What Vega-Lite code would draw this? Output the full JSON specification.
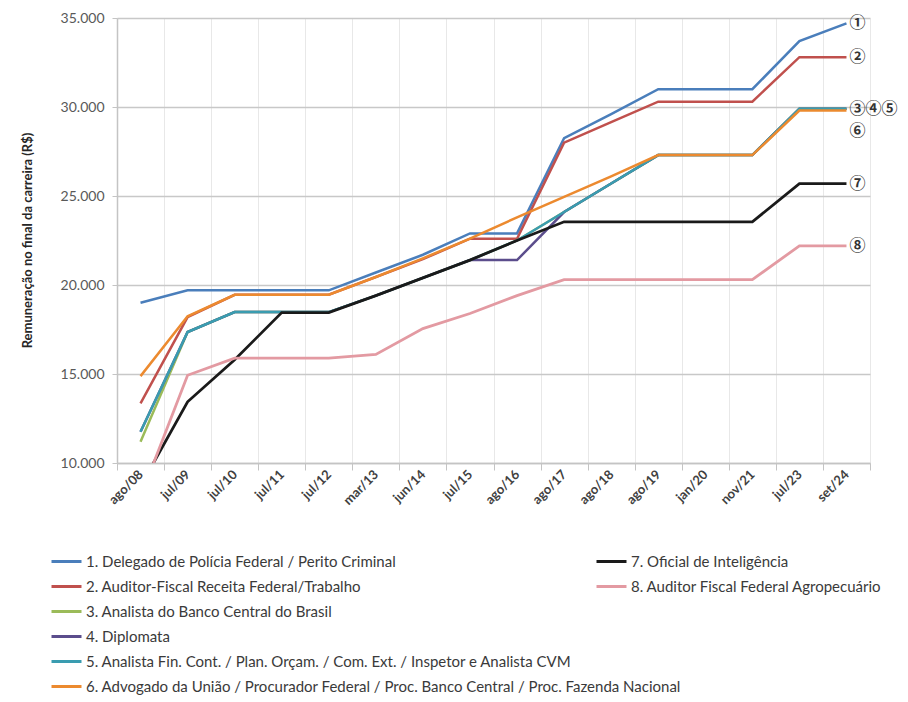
{
"$schema": "https://vega.github.io/schema/vega-lite/v6.json",
"width": 753, "height": 445,
"autosize": {"type": "none"},
"padding": {"left": 117, "top": 18, "right": 38, "bottom": 239},
"background": "white",
"config": {"font": "Lato", "view": {"stroke": null}},
"datasets": {
"names": [
{"k":1,"name":"1. Delegado de Polícia Federal / Perito Criminal"},
{"k":2,"name":"2. Auditor-Fiscal Receita Federal/Trabalho"},
{"k":3,"name":"3. Analista do Banco Central do Brasil"},
{"k":4,"name":"4. Diplomata"},
{"k":5,"name":"5. Analista Fin. Cont. / Plan. Orçam. / Com. Ext. / Inspetor e Analista CVM"},
{"k":6,"name":"6. Advogado da União / Procurador Federal / Proc. Banco Central / Proc. Fazenda Nacional"},
{"k":7,"name":"7. Oficial de Inteligência"},
{"k":8,"name":"8. Auditor Fiscal Federal Agropecuário"}
],
"pts": [
{"c":"ago/08","k":1,"v":19000},{"c":"jul/09","k":1,"v":19700},{"c":"jul/10","k":1,"v":19700},{"c":"jul/11","k":1,"v":19700},{"c":"jul/12","k":1,"v":19700},{"c":"mar/13","k":1,"v":20700},{"c":"jun/14","k":1,"v":21700},{"c":"jul/15","k":1,"v":22900},{"c":"ago/16","k":1,"v":22900},{"c":"ago/17","k":1,"v":28250},{"c":"ago/18","k":1,"v":29600},{"c":"ago/19","k":1,"v":31000},{"c":"jan/20","k":1,"v":31000},{"c":"nov/21","k":1,"v":31000},{"c":"jul/23","k":1,"v":33700},{"c":"set/24","k":1,"v":34700},
{"c":"ago/08","k":2,"v":13350},{"c":"jul/09","k":2,"v":18200},{"c":"jul/10","k":2,"v":19450},{"c":"jul/11","k":2,"v":19450},{"c":"jul/12","k":2,"v":19450},{"c":"mar/13","k":2,"v":20450},{"c":"jun/14","k":2,"v":21450},{"c":"jul/15","k":2,"v":22600},{"c":"ago/16","k":2,"v":22600},{"c":"ago/17","k":2,"v":28000},{"c":"ago/18","k":2,"v":29150},{"c":"ago/19","k":2,"v":30300},{"c":"jan/20","k":2,"v":30300},{"c":"nov/21","k":2,"v":30300},{"c":"jul/23","k":2,"v":32800},{"c":"set/24","k":2,"v":32800},
{"c":"ago/08","k":3,"v":11200},{"c":"jul/09","k":3,"v":17360},{"c":"jul/10","k":3,"v":18480},{"c":"jul/11","k":3,"v":18480},{"c":"jul/12","k":3,"v":18480},{"c":"mar/13","k":3,"v":19400},{"c":"jun/14","k":3,"v":20400},{"c":"jul/15","k":3,"v":21400},{"c":"ago/16","k":3,"v":22500},{"c":"ago/17","k":3,"v":24100},{"c":"ago/18","k":3,"v":25700},{"c":"ago/19","k":3,"v":27300},{"c":"jan/20","k":3,"v":27300},{"c":"nov/21","k":3,"v":27300},{"c":"jul/23","k":3,"v":29900},{"c":"set/24","k":3,"v":29900},
{"c":"ago/08","k":4,"v":11760},{"c":"jul/09","k":4,"v":17360},{"c":"jul/10","k":4,"v":18480},{"c":"jul/11","k":4,"v":18480},{"c":"jul/12","k":4,"v":18480},{"c":"mar/13","k":4,"v":19400},{"c":"jun/14","k":4,"v":20400},{"c":"jul/15","k":4,"v":21400},{"c":"ago/16","k":4,"v":21400},{"c":"ago/17","k":4,"v":24100},{"c":"ago/18","k":4,"v":25700},{"c":"ago/19","k":4,"v":27300},{"c":"jan/20","k":4,"v":27300},{"c":"nov/21","k":4,"v":27300},{"c":"jul/23","k":4,"v":29900},{"c":"set/24","k":4,"v":29900},
{"c":"ago/08","k":5,"v":11760},{"c":"jul/09","k":5,"v":17360},{"c":"jul/10","k":5,"v":18480},{"c":"jul/11","k":5,"v":18480},{"c":"jul/12","k":5,"v":18480},{"c":"mar/13","k":5,"v":19400},{"c":"jun/14","k":5,"v":20400},{"c":"jul/15","k":5,"v":21400},{"c":"ago/16","k":5,"v":22500},{"c":"ago/17","k":5,"v":24100},{"c":"ago/18","k":5,"v":25700},{"c":"ago/19","k":5,"v":27300},{"c":"jan/20","k":5,"v":27300},{"c":"nov/21","k":5,"v":27300},{"c":"jul/23","k":5,"v":29900},{"c":"set/24","k":5,"v":29900},
{"c":"ago/08","k":6,"v":14880},{"c":"jul/09","k":6,"v":18240},{"c":"jul/10","k":6,"v":19450},{"c":"jul/11","k":6,"v":19450},{"c":"jul/12","k":6,"v":19450},{"c":"mar/13","k":6,"v":20450},{"c":"jun/14","k":6,"v":21500},{"c":"jul/15","k":6,"v":22600},{"c":"ago/16","k":6,"v":23800},{"c":"ago/17","k":6,"v":24950},{"c":"ago/18","k":6,"v":26100},{"c":"ago/19","k":6,"v":27300},{"c":"jan/20","k":6,"v":27300},{"c":"nov/21","k":6,"v":27300},{"c":"jul/23","k":6,"v":29800},{"c":"set/24","k":6,"v":29800},
{"c":"ago/08","k":7,"v":8700},{"c":"jul/09","k":7,"v":13440},{"c":"jul/10","k":7,"v":15800},{"c":"jul/11","k":7,"v":18450},{"c":"jul/12","k":7,"v":18450},{"c":"mar/13","k":7,"v":19400},{"c":"jun/14","k":7,"v":20400},{"c":"jul/15","k":7,"v":21400},{"c":"ago/16","k":7,"v":22500},{"c":"ago/17","k":7,"v":23550},{"c":"ago/18","k":7,"v":23550},{"c":"ago/19","k":7,"v":23550},{"c":"jan/20","k":7,"v":23550},{"c":"nov/21","k":7,"v":23550},{"c":"jul/23","k":7,"v":25700},{"c":"set/24","k":7,"v":25700},
{"c":"ago/08","k":8,"v":8100},{"c":"jul/09","k":8,"v":14930},{"c":"jul/10","k":8,"v":15890},{"c":"jul/11","k":8,"v":15890},{"c":"jul/12","k":8,"v":15890},{"c":"mar/13","k":8,"v":16100},{"c":"jun/14","k":8,"v":17550},{"c":"jul/15","k":8,"v":18400},{"c":"ago/16","k":8,"v":19400},{"c":"ago/17","k":8,"v":20300},{"c":"ago/18","k":8,"v":20300},{"c":"ago/19","k":8,"v":20300},{"c":"jan/20","k":8,"v":20300},{"c":"nov/21","k":8,"v":20300},{"c":"jul/23","k":8,"v":22200},{"c":"set/24","k":8,"v":22200}
],
"ends": [
{"c":"set/24","v":34700,"t":"①"},
{"c":"set/24","v":32800,"t":"②"},
{"c":"set/24","v":29900,"t":"③④⑤"},
{"c":"set/24","v":25700,"t":"⑦"},
{"c":"set/24","v":22200,"t":"⑧"}
],
"ends6": [
{"c":"set/24","v":29800,"t":"⑥"}
]
},
"encoding": {
"x": {"field": "c", "type": "ordinal",
 "sort": ["ago/08","jul/09","jul/10","jul/11","jul/12","mar/13","jun/14","jul/15","ago/16","ago/17","ago/18","ago/19","jan/20","nov/21","jul/23","set/24"],
 "scale": {"type": "band", "paddingInner": 0, "paddingOuter": 0},
 "bandPosition": 0.5,
 "axis": {"title": null, "tickBand": "extent", "grid": true, "gridColor": "#e8e8e8", "gridWidth": 1,
  "domainColor": "#c4c4c4", "domainWidth": 1.5, "tickColor": "#c4c4c4", "tickSize": 7, "tickWidth": 1,
  "labelAngle": -45, "labelAlign": "right", "labelBaseline": "middle", "labelPadding": 2,
  "labelFontSize": 13, "labelFontWeight": "bold", "labelColor": "#404040", "labelFont": "Lato"}},
"y": {"field": "v", "type": "quantitative",
 "scale": {"domain": [10000, 35000], "nice": false, "zero": false},
 "axis": {"values": [10000, 15000, 20000, 25000, 30000, 35000],
  "labelExpr": "replace(format(datum.value, ',.0f'), ',', '.')",
  "labelFontSize": 14, "labelColor": "#595959", "labelFont": "Lato", "labelPadding": 8,
  "tickSize": 5, "tickColor": "#c4c4c4", "domainColor": "#c4c4c4", "domainWidth": 1.5,
  "grid": true, "gridColor": "#c8c8c8", "gridWidth": 1.5,
  "title": "Remuneração no final da carreira (R$)", "titleFont": "Lato", "titleFontSize": 13, "titleFontWeight": "bold",
  "titleColor": "#262626", "titleX": -90, "titleY": 222, "titleAngle": -90, "titleAlign": "center", "titleBaseline": "middle"}}
},
"layer": [
{
 "data": {"name": "pts"},
 "transform": [{"filter": "datum.k <= 6"}, {"lookup": "k", "from": {"data": {"name": "names"}, "key": "k", "fields": ["name"]}}],
 "mark": {"type": "line", "strokeWidth": 2.5, "clip": true},
 "encoding": {"color": {"field": "name", "type": "nominal",
  "scale": {"domain": ["1. Delegado de Polícia Federal / Perito Criminal","2. Auditor-Fiscal Receita Federal/Trabalho","3. Analista do Banco Central do Brasil","4. Diplomata","5. Analista Fin. Cont. / Plan. Orçam. / Com. Ext. / Inspetor e Analista CVM","6. Advogado da União / Procurador Federal / Proc. Banco Central / Proc. Fazenda Nacional"],
   "range": ["#4a7ebb", "#c0504d", "#9bbb59", "#5b4d8c", "#3a9cb0", "#ec8a2f"]},
  "legend": {"orient": "none", "legendX": -67, "legendY": 527, "title": null, "symbolType": "stroke", "symbolStrokeWidth": 3, "symbolSize": 900,
   "labelFont": "Lato", "labelFontSize": 15, "labelColor": "#3a3a3a", "labelLimit": 800, "rowPadding": -4, "labelOffset": 3}}}
},
{
 "data": {"name": "pts"},
 "transform": [{"filter": "datum.k >= 7"}, {"lookup": "k", "from": {"data": {"name": "names"}, "key": "k", "fields": ["name"]}}],
 "mark": {"type": "line", "strokeWidth": 2.8, "clip": true},
 "encoding": {"color": {"field": "name", "type": "nominal",
  "scale": {"domain": ["7. Oficial de Inteligência", "8. Auditor Fiscal Federal Agropecuário"], "range": ["#1a1a1a", "#e39aa2"]},
  "legend": {"orient": "none", "legendX": 478, "legendY": 527, "title": null, "symbolType": "stroke", "symbolStrokeWidth": 3, "symbolSize": 900,
   "labelFont": "Lato", "labelFontSize": 15, "labelColor": "#3a3a3a", "labelLimit": 800, "rowPadding": -4, "labelOffset": 3}}}
},
{
 "data": {"name": "ends"},
 "mark": {"type": "text", "align": "left", "baseline": "middle", "dx": 3, "font": "Noto Sans CJK JP", "fontSize": 16, "fontWeight": "bold", "color": "#333333"},
 "encoding": {"text": {"field": "t"}}
},
{
 "data": {"name": "ends6"},
 "mark": {"type": "text", "align": "left", "baseline": "middle", "dx": 3, "dy": 20, "font": "Noto Sans CJK JP", "fontSize": 16, "fontWeight": "bold", "color": "#333333"},
 "encoding": {"text": {"field": "t"}}
}
],
"resolve": {"scale": {"color": "independent"}}
}
